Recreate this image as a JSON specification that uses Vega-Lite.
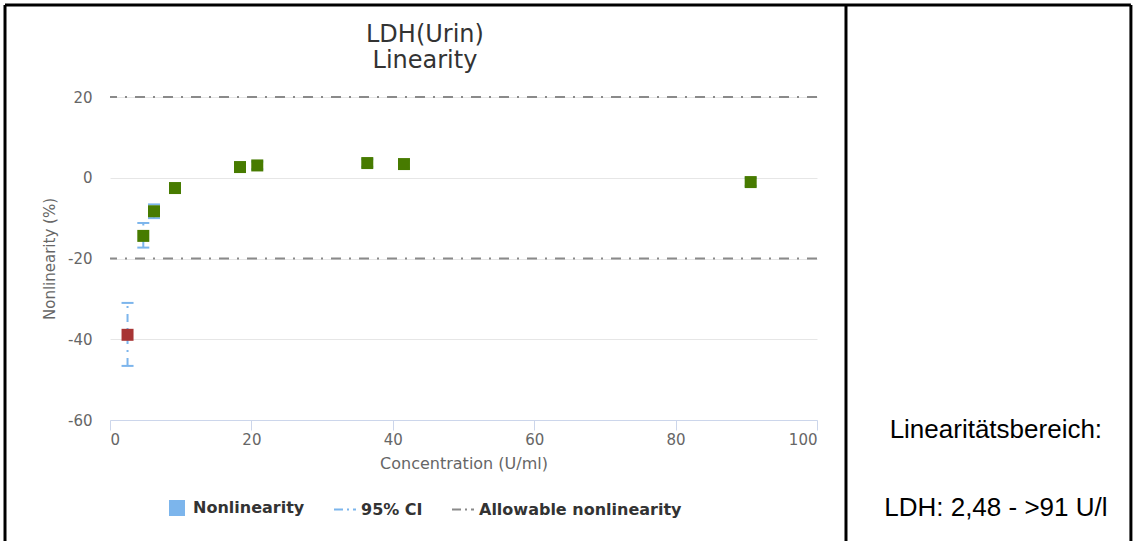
{
  "$schema": "https://vega.github.io/schema/vega-lite/v6.json",
  "width": 707,
  "height": 323,
  "autosize": {"type": "none"},
  "padding": {"left": 110, "top": 97, "right": 317, "bottom": 121},
  "background": "white",
  "config": {
    "view": {"stroke": null},
    "font": "DejaVu Sans",
    "axis": {"labelColor": "#666666", "titleColor": "#666666", "labelFontSize": 15, "titleFontSize": 15, "titleFontWeight": "normal", "labelFont": "DejaVu Sans", "titleFont": "DejaVu Sans"}
  },
  "datasets": {
    "levels": [
      {"conc": 2.48, "nl": -38.9, "lo": -46.6, "hi": -31.0, "status": "outside"},
      {"conc": 4.71, "nl": -14.4, "lo": -17.3, "hi": -11.2, "status": "within"},
      {"conc": 6.22, "nl": -8.3, "lo": -10.0, "hi": -6.6, "status": "within"},
      {"conc": 9.19, "nl": -2.55, "lo": -3.6, "hi": -1.5, "status": "within"},
      {"conc": 18.39, "nl": 2.65, "lo": 1.7, "hi": 3.6, "status": "within"},
      {"conc": 20.83, "nl": 3.05, "lo": 2.1, "hi": 4.0, "status": "within"},
      {"conc": 36.39, "nl": 3.64, "lo": 2.7, "hi": 4.6, "status": "within"},
      {"conc": 41.58, "nl": 3.39, "lo": 2.4, "hi": 4.3, "status": "within"},
      {"conc": 90.62, "nl": -1.07, "lo": -2.0, "hi": -0.1, "status": "within"}
    ],
    "limits": [{"limit": 20}, {"limit": -20}],
    "heading": [
      {"line": "LDH(Urin)", "px": 44.55, "py": 33.65},
      {"line": "Linearity", "px": 44.55, "py": 27.15}
    ],
    "summary": [
      {"line": "Linearitätsbereich:", "px": 125.3, "py": -64.4},
      {"line": "LDH: 2,48 - >91 U/l", "px": 125.3, "py": -83.9}
    ]
  },
  "layer": [
    {
      "data": {"name": "limits"},
      "mark": {"type": "rule", "strokeWidth": 2, "strokeDash": [10, 8, 2, 8]},
      "encoding": {
        "y": {
          "field": "limit",
          "type": "quantitative",
          "scale": {"domain": [-60, 20], "nice": false, "zero": false},
          "axis": {
            "values": [-60, -40, -20, 0, 20],
            "labelExpr": "datum.value + ''",
            "grid": true,
            "gridColor": "#e6e6e6",
            "domain": false,
            "ticks": false,
            "labelPadding": 18,
            "title": "Nonlinearity (%)",
            "titlePadding": 10
          }
        },
        "color": {
          "datum": "Allowable nonlinearity",
          "type": "nominal",
          "scale": {
            "domain": ["Nonlinearity", "95% CI", "Allowable nonlinearity"],
            "range": ["#7cb5ec", "#7cb5ec", "#8a8a8a"]
          },
          "legend": {
            "title": null,
            "orient": "none",
            "direction": "horizontal",
            "legendX": 55,
            "legendY": 399,
            "labelFont": "DejaVu Sans",
            "labelFontWeight": "bold",
            "labelFontSize": 16,
            "labelColor": "#333333",
            "labelLimit": 400,
            "columnPadding": 25,
            "symbolSize": 484,
            "labelOffset": 4,
            "encode": {
              "symbols": {
                "update": {
                  "shape": {"signal": "datum.value === 'Nonlinearity' ? 'square' : 'stroke'"},
                  "size": {"signal": "datum.value === 'Nonlinearity' ? 196 : 484"},
                  "fill": {"signal": "datum.value === 'Nonlinearity' ? '#7cb5ec' : 'transparent'"},
                  "stroke": {"signal": "datum.value === 'Nonlinearity' ? 'transparent' : (datum.value === '95% CI' ? '#7cb5ec' : '#666666')"},
                  "strokeDash": {"signal": "datum.value === 'Nonlinearity' ? [] : [9, 4, 2, 4]"},
                  "strokeWidth": {"value": 2},
                  "opacity": {"value": 1}
                }
              }
            }
          }
        }
      }
    },
    {
      "data": {"name": "levels"},
      "mark": {"type": "rule", "strokeWidth": 2, "strokeDash": [8, 6, 2, 6]},
      "encoding": {
        "x": {
          "field": "conc",
          "type": "quantitative",
          "scale": {"domain": [0, 100], "nice": false, "zero": false},
          "axis": {
            "values": [0, 20, 40, 60, 80, 100],
            "grid": false,
            "domainColor": "#ccd6eb",
            "tickColor": "#ccd6eb",
            "tickSize": 10,
            "labelPadding": 2,
            "labelFlush": true,
            "title": "Concentration (U/ml)",
            "titleFontSize": 16,
            "titlePadding": 8
          }
        },
        "y": {"field": "lo", "type": "quantitative"},
        "y2": {"field": "hi"},
        "color": {"datum": "95% CI", "type": "nominal"}
      }
    },
    {
      "data": {"name": "levels"},
      "mark": {"type": "tick", "orient": "horizontal", "size": 12, "thickness": 2, "color": "#7cb5ec", "opacity": 1},
      "encoding": {
        "x": {"field": "conc", "type": "quantitative"},
        "y": {"field": "lo", "type": "quantitative"}
      }
    },
    {
      "data": {"name": "levels"},
      "mark": {"type": "tick", "orient": "horizontal", "size": 12, "thickness": 2, "color": "#7cb5ec", "opacity": 1},
      "encoding": {
        "x": {"field": "conc", "type": "quantitative"},
        "y": {"field": "hi", "type": "quantitative"}
      }
    },
    {
      "data": {"name": "levels"},
      "mark": {"type": "point", "shape": "square", "filled": true, "size": 144, "opacity": 1},
      "encoding": {
        "x": {"field": "conc", "type": "quantitative"},
        "y": {"field": "nl", "type": "quantitative"},
        "fill": {
          "field": "status",
          "type": "nominal",
          "scale": {"domain": ["within", "outside"], "range": ["#477b00", "#a83535"]},
          "legend": null
        }
      }
    },
    {
      "data": {"values": [{}]},
      "mark": {"type": "rule", "color": "#000000", "strokeWidth": 3},
      "encoding": {"x": {"datum": -14.85}, "y": {"datum": 42.8}, "y2": {"datum": -95}}
    },
    {
      "data": {"values": [{}]},
      "mark": {"type": "rule", "color": "#000000", "strokeWidth": 3},
      "encoding": {"x": {"datum": 104.1}, "y": {"datum": 42.8}, "y2": {"datum": -95}}
    },
    {
      "data": {"values": [{}]},
      "mark": {"type": "rule", "color": "#000000", "strokeWidth": 3},
      "encoding": {"x": {"datum": 144.4}, "y": {"datum": 42.8}, "y2": {"datum": -95}}
    },
    {
      "data": {"values": [{}]},
      "mark": {"type": "rule", "color": "#000000", "strokeWidth": 3},
      "encoding": {"x": {"datum": -14.85}, "x2": {"datum": 144.4}, "y": {"datum": 42.8}}
    },
    {
      "data": {"name": "heading"},
      "mark": {"type": "text", "font": "DejaVu Sans", "fontSize": 24, "align": "center", "baseline": "alphabetic", "color": "#333333"},
      "encoding": {
        "x": {"field": "px", "type": "quantitative"},
        "y": {"field": "py", "type": "quantitative"},
        "text": {"field": "line"}
      }
    },
    {
      "data": {"name": "summary"},
      "mark": {"type": "text", "font": "Liberation Sans", "fontSize": 26, "align": "center", "baseline": "alphabetic", "color": "#000000"},
      "encoding": {
        "x": {"field": "px", "type": "quantitative"},
        "y": {"field": "py", "type": "quantitative"},
        "text": {"field": "line"}
      }
    }
  ]
}
